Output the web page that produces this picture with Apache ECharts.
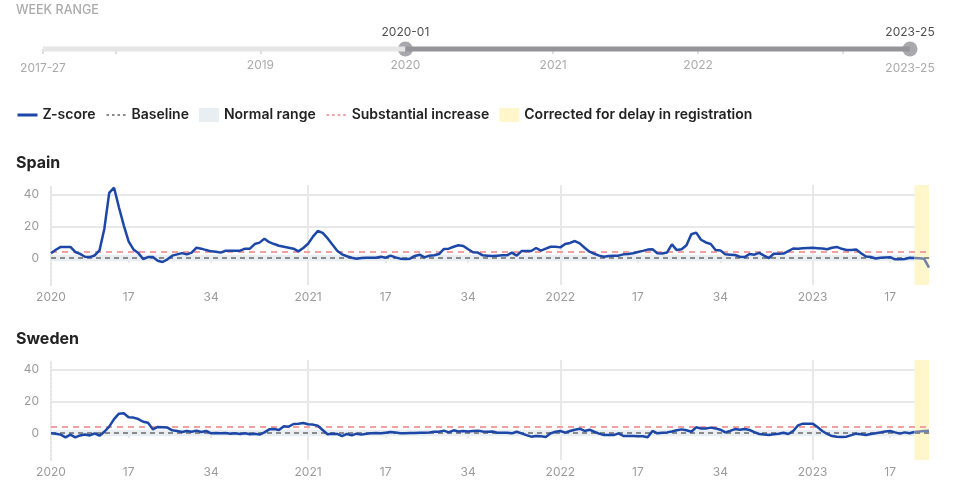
<!DOCTYPE html>
<html><head><meta charset="utf-8">
<script src="https://cdn.jsdelivr.net/npm/echarts@6/dist/echarts.min.js"></script>
<style>html,body{margin:0;padding:0;background:#fff}#c{width:963px;height:496px}</style>
</head><body><div id="c"></div>
<script>
const FONT = 'Inter, "Noto Sans", sans-serif';

// ---- data ----
const years = [2020, 2021, 2022, 2023];
const weeksInYear = [53, 52, 52, 25];
const labelWeeks = [1, 17, 34];
const countries = ['Spain', 'Sweden'];
const spain = [
 3,5.2,7,7,7,3.8,2.6,0.8,0.6,1.6,4.8,18.5,41,44.3,32,20.6,10.5,5.4,3.1,-0.6,
 0.6,0.6,-1.7,-2.5,-0.8,1.5,2.3,3.1,2.3,3.4,6.5,5.9,5,4.2,4,3.4,4.6,4.6,4.6,4.6,
 5.9,5.9,8.8,9.7,12.2,10,8.8,7.7,7.1,6.5,5.9,4.2,6.3,9,13.5,17,15.8,12.5,8.5,4.6,
 2.3,1.1,0.2,-0.4,0,0.2,0.2,0.2,0.8,0.2,1.5,0.4,-0.4,-0.6,-0.4,1.3,2.1,0.4,1.5,1.7,
 2.5,5.7,5.9,7.1,8,7.6,5.5,3.6,3.4,1.7,1.5,1.3,1.5,1.7,1.7,3.4,1.5,4.4,4.4,4.4,
 6.3,4.6,5.9,7.1,7.1,6.7,8.8,9.5,10.7,9.2,6.5,4,2.7,1.5,0.8,1.3,1.5,1.5,2.3,2.5,
 3,3.8,4.5,5.3,5.5,3,2.8,3.5,8.6,5,5.5,8,15,16,11.5,9.8,8.8,5,4.8,2.3,
 2.1,1.9,0.8,0.6,2.5,2.1,3.2,1.5,0,2.7,2.7,2.8,4.4,6,5.8,6.1,6.3,6.4,6.2,6,
 5.5,6.5,7,5.8,5,5,5.4,3,1,0.6,-0.3,0.2,0.4,0.5,-0.8,-0.8,-0.6,0.2,0,-0.2,
 -0.5,-6
];
const sweden = [
 -0.2,-0.4,-1,-2.7,-1,-2.7,-1.5,-1,-1.5,-0.2,-1.7,0.8,4,8.8,12.2,12.4,9.9,9.7,8.8,7.1,
 6.5,2.3,3.8,3.6,3.4,1.7,1.3,0.6,1.3,0.8,1.5,0.6,1.3,-0.2,0,-0.2,0,-0.4,-0.2,-0.6,
 -0.2,-0.8,-0.4,-1,0.4,2.3,2.5,1.9,4.2,4,5.7,5.9,6.3,5.5,5.3,4.6,1.9,-0.8,-0.4,-0.6,
 -1.9,-0.6,-1.5,-0.4,-1,-0.4,-0.2,0,-0.2,0.2,0.6,0.4,-0.2,-0.2,0,0,0.2,0.2,0.4,0.8,
 0.8,1.5,0.4,1.7,1,1.3,1,1.3,1.5,1,0.8,1,0.2,0.2,0.2,-0.2,0.8,-0.2,-1.3,-2.3,
 -1.9,-2.1,-2.5,-0.2,0.8,1.3,0.2,1.3,2.1,2.7,1.3,2.1,0.8,-0.4,-1.3,-1.3,-1.3,-0.2,-1.9,-1.9,
 -1.9,-2.1,-2.1,-2.7,1.3,-0.2,0.2,0.4,1,1.7,2.3,1.7,0.8,3.6,2.9,2.9,3.4,2.9,2.1,0.4,
 1.3,2.5,2.1,2.5,1.9,0.6,-0.6,-1,-1.3,-0.8,-0.4,0.2,-0.6,1.3,4.8,5.9,5.9,5.9,3.8,1.3,
 -0.6,-1.9,-2.3,-2.5,-2.3,-1.3,-0.4,-0.8,-1.3,-0.6,-0.2,0.4,1,1.3,0.4,-0.4,0.4,-0.2,0.6,1,
 1.3,1.5
];
const baseline = 0;
const normalLow = -2, normalHigh = 2;
const substantial = 4;
const correctedFrom = '2023-22';
const yTicks = [0, 20, 40];
const yMin = -17, yMax = 46;

// slider (week range)
const sliderMax = 311;               // weeks from 2017-27 to 2023-25
const sliderTickVals = [0, 26, 78, 130, 183, 235, 287];
const sliderLabelVals = [0, 78, 130, 183, 235, 311];
const sliderLabelText = ['2017-27', '2019', '2020', '2021', '2022', '2023-25'];
const rangeStart = 130, rangeEnd = 311;
const handleLabels = ['2020-01', '2023-25'];

// ---- build ----
const weeks = [];
years.forEach((y, k) => { for (let w = 1; w <= weeksInYear[k]; w++) weeks.push(y + '-' + String(w).padStart(2, '0')); });
const corrIdx = weeks.indexOf(correctedFrom);
const lastWeek = weeks[weeks.length - 1];
const isLabelWeek = (i, v) => labelWeeks.includes(+String(v).split('-')[1]);
const isYearStart = (i, v) => i > 0 && String(v).endsWith('-01');

const C = {
  z: '#1d47a7', zCorr: '#7083ad', base: '#8a8a8a', red: '#f2a0a0',
  normal: '#e9eef3', corr: '#fff6cc', grid: '#e8e8e8', label: '#9b9b9b'
};

const grids = [], xAxes = [], yAxes = [], series = [];
const tops = [185, 360];
countries.forEach((name, gi) => {
  const vals = gi === 0 ? spain : sweden;
  grids.push({ left: 51, right: 34, top: tops[gi], height: 100, outerBoundsMode: 'none' });
  xAxes.push({
    type: 'category', gridIndex: gi, data: weeks, boundaryGap: false,
    axisLine: { show: true, lineStyle: { color: C.grid, width: 2 } },
    axisTick: { show: true, interval: isLabelWeek, length: 5, lineStyle: { color: C.grid, width: 2 } },
    axisLabel: {
      interval: isLabelWeek, hideOverlap: false,
      formatter: v => { const p = v.split('-'); return p[1] === '01' ? p[0] : String(+p[1]); },
      color: C.label, fontSize: 12, margin: 6, fontFamily: FONT
    },
    splitLine: { show: true, interval: isYearStart, lineStyle: { color: C.grid, width: 2 } }
  });
  yAxes.push({
    type: 'value', gridIndex: gi, min: yMin, max: yMax,
    axisLine: { show: true, lineStyle: { color: '#e4e4e4', type: 'dotted', width: 2 } },
    axisTick: { show: false, customValues: yTicks },
    axisLabel: { customValues: yTicks, color: C.label, fontSize: 12, margin: 12, fontFamily: FONT },
    splitLine: { show: true, lineStyle: { color: C.grid, width: 2 } }
  });
  const ax = { xAxisIndex: gi, yAxisIndex: gi };
  series.push({
    ...ax, name: 'Normal range', type: 'line', data: [], silent: true,
    markArea: { silent: true, itemStyle: { color: C.normal }, data: [[{ yAxis: normalLow }, { yAxis: normalHigh }]] }
  });
  series.push({
    ...ax, name: 'Corrected for delay in registration', type: 'line', data: [], silent: true,
    markArea: { silent: true, itemStyle: { color: C.corr }, data: [[{ xAxis: correctedFrom }, { xAxis: lastWeek }]] }
  });
  series.push({
    ...ax, name: 'Baseline', type: 'line', data: [], symbol: 'none', silent: true,
    lineStyle: { color: C.base, type: [5, 4], width: 2 }, itemStyle: { color: C.base },
    markLine: { silent: true, symbol: 'none', label: { show: false }, lineStyle: { color: C.base, type: [5, 4], width: 2 }, data: [{ yAxis: baseline }] }
  });
  series.push({
    ...ax, name: 'Substantial increase', type: 'line', data: [], symbol: 'none', silent: true,
    lineStyle: { color: C.red, type: [6, 5], width: 2 }, itemStyle: { color: C.red },
    markLine: { silent: true, symbol: 'none', label: { show: false }, lineStyle: { color: C.red, type: [6, 5], width: 2 }, data: [{ yAxis: substantial }] }
  });
  series.push({
    ...ax, name: 'Z-score', type: 'line', symbol: 'none', z: 5,
    data: vals.map((v, i) => i <= corrIdx ? v : null),
    lineStyle: { color: C.z, width: 2.5 }, itemStyle: { color: C.z }
  });
  series.push({
    ...ax, name: 'Z-score corrected', type: 'line', symbol: 'none', z: 5,
    data: vals.map((v, i) => i >= corrIdx ? v : null),
    lineStyle: { color: C.zCorr, width: 2.5 }, itemStyle: { color: C.zCorr }
  });
});

// slider grid
grids.push({ left: 43, right: 53, top: 47, height: 4, outerBoundsMode: 'none' });
xAxes.push({
  type: 'value', gridIndex: 2, min: 0, max: sliderMax,
  axisLine: { show: false }, splitLine: { show: false },
  axisTick: { show: true, customValues: sliderTickVals, length: 5, lineStyle: { color: '#dedede', width: 2 } },
  axisLabel: {
    customValues: sliderLabelVals, color: '#aaaaaa', fontSize: 12, margin: 8, fontFamily: FONT,
    formatter: v => {
      const k = sliderLabelVals.indexOf(v);
      const t = sliderLabelText[k];
      return (k === 0 || k === sliderLabelVals.length - 1) ? '{e|' + t + '}' : t;
    },
    rich: { e: { color: '#aaaaaa', fontSize: 12, fontFamily: FONT, padding: [3, 0, 0, 0] } }
  }
});
yAxes.push({ type: 'value', gridIndex: 2, min: -1, max: 1, show: false });
const sax = { xAxisIndex: 2, yAxisIndex: 2, silent: true, clip: false };
series.push({ ...sax, type: 'line', symbol: 'none', data: [[0, 0], [rangeStart, 0]], lineStyle: { color: '#e5e5e5', width: 5 } });
series.push({ ...sax, type: 'line', symbol: 'none', data: [[rangeStart, 0], [rangeEnd, 0]], lineStyle: { color: '#949499', width: 5 } });
series.push({
  ...sax, type: 'scatter', symbolSize: 15, data: [[rangeStart, 0], [rangeEnd, 0]], itemStyle: { color: '#949499' },
  label: { show: true, position: 'top', distance: 3, formatter: p => handleLabels[p.dataIndex], color: '#222', fontSize: 12, fontFamily: FONT }
});

const chart = echarts.init(document.getElementById('c'), null, { renderer: 'canvas' });
chart.setOption({
  animation: false,
  textStyle: { fontFamily: FONT },
  title: [
    { text: 'WEEK RANGE', left: 16, top: 4, padding: 0, textStyle: { fontSize: 12.5, fontWeight: 500, color: '#ababab', fontFamily: FONT } },
    { text: 'Spain', left: 16, top: 155, padding: 0, textStyle: { fontSize: 16, fontWeight: 700, color: '#222', fontFamily: FONT } },
    { text: 'Sweden', left: 16, top: 331, padding: 0, textStyle: { fontSize: 16, fontWeight: 700, color: '#222', fontFamily: FONT } }
  ],
  legend: {
    left: 16, top: 108, padding: 0, itemWidth: 20, itemHeight: 14, itemGap: 10, selectedMode: false,
    textStyle: { fontFamily: FONT, fontSize: 14, fontWeight: 600, color: '#222' },
    data: [
      { name: 'Z-score', itemStyle: { opacity: 0 }, lineStyle: { width: 3 } },
      { name: 'Baseline', itemStyle: { opacity: 0 }, lineStyle: { type: [2.5, 3] } },
      { name: 'Normal range', icon: 'rect', itemStyle: { color: C.normal } },
      { name: 'Substantial increase', itemStyle: { opacity: 0 }, lineStyle: { type: [2.5, 3] } },
      { name: 'Corrected for delay in registration', icon: 'rect', itemStyle: { color: C.corr } }
    ]
  },
  grid: grids, xAxis: xAxes, yAxis: yAxes, series: series
});
</script></body></html>
